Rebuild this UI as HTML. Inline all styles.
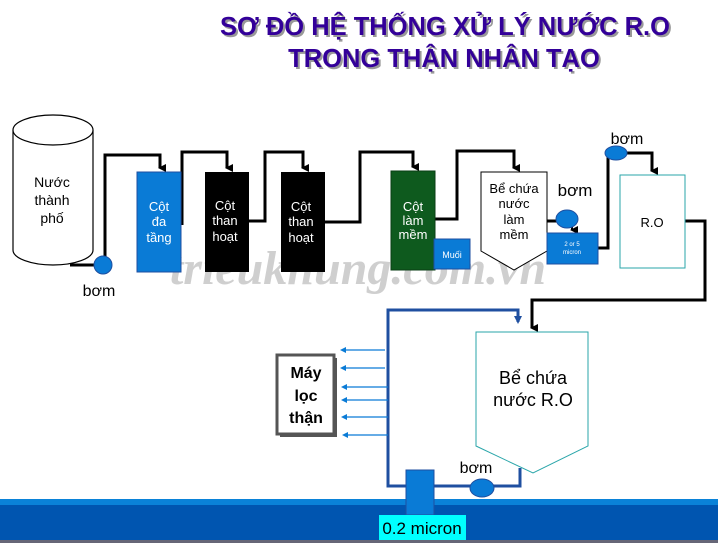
<!DOCTYPE html>
<html><head><meta charset="utf-8"><style>
html,body{margin:0;padding:0;background:#fff;}
svg{display:block;font-family:"Liberation Sans",sans-serif;}
</style></head><body>
<svg width="718" height="543" viewBox="0 0 718 543" xmlns="http://www.w3.org/2000/svg">
<defs>
<marker id="ab" markerWidth="8" markerHeight="8" refX="4" refY="6" orient="auto-start-reverse" markerUnits="userSpaceOnUse" viewBox="0 0 8 8"><path d="M0,0 L8,0 L4,8 Z" fill="#000"/></marker>
<marker id="abl" markerWidth="8" markerHeight="8" refX="4" refY="6" markerUnits="userSpaceOnUse" viewBox="0 0 8 8"><path d="M0,0 L8,0 L4,8 Z" fill="#1f4fa0"/></marker>
</defs>
<!-- Title -->
<g font-weight="bold" font-size="25.5" text-anchor="middle">
<text x="447" y="37" fill="#999">SƠ ĐỒ HỆ THỐNG  XỬ LÝ NƯỚC R.O</text>
<text x="445" y="35" fill="#330099">SƠ ĐỒ HỆ THỐNG  XỬ LÝ NƯỚC R.O</text>
<text x="446" y="69" fill="#999">TRONG THẬN NHÂN TẠO</text>
<text x="444" y="67" fill="#330099">TRONG THẬN NHÂN TẠO</text>
</g>
<!-- watermark -->
<text x="358" y="284" text-anchor="middle" font-family="Liberation Serif,serif" font-style="italic" font-weight="bold" font-size="48" fill="#bbb" opacity="0.7">trieukhung.com.vn</text>
<!-- Cylinder -->
<path d="M13,130 L13,250 A40,15 0 0 0 93,250 L93,130" fill="#fff" stroke="#000" stroke-width="1.2"/>
<ellipse cx="53" cy="130" rx="40" ry="15" fill="#fff" stroke="#000" stroke-width="1.2"/>
<g font-size="14" text-anchor="middle" fill="#000"><text x="52" y="187">Nước</text><text x="52" y="205">thành</text><text x="52" y="223">phố</text></g>
<!-- pipes black -->
<g fill="none" stroke="#000" stroke-width="3">
<path d="M70,265 L105,265 L105,155 L160,155 L160,168" marker-end="url(#ab)"/>
<path d="M182,225 L182,152 L227,152 L227,168" marker-end="url(#ab)"/>
<path d="M249,221 L265,221 L265,152 L303,152 L303,168" marker-end="url(#ab)"/>
<path d="M325,222 L360,222 L360,152 L413,152 L413,167" marker-end="url(#ab)"/>
<path d="M435,219 L457,219 L457,151 L514,151 L514,168" marker-end="url(#ab)"/>
<path d="M547,221 L560,221"/>
<path d="M572,225 L572,230" stroke-width="2" marker-end="url(#ab)"/>
<path d="M598,248 L608,248 L608,153 L652,153 L652,171" marker-end="url(#ab)"/>
<path d="M685,221 L705,221 L705,300 L532,300 L532,328" marker-end="url(#ab)"/>
</g>
<!-- pumps -->
<circle cx="103" cy="265" r="9" fill="#0a7bd6" stroke="#1f4fa0"/>
<text x="99" y="296" font-size="16" text-anchor="middle">bơm</text>
<ellipse cx="567" cy="219" rx="11" ry="9" fill="#0a7bd6" stroke="#1f4fa0"/>
<text x="575" y="196" font-size="17" text-anchor="middle">bơm</text>
<ellipse cx="616" cy="153" rx="11" ry="7" fill="#0a7bd6" stroke="#1f4fa0"/>
<text x="627" y="144" font-size="16" text-anchor="middle">bơm</text>
<!-- columns -->
<rect x="137" y="172" width="44" height="100" fill="#0a7bd6" stroke="#1f4fa0"/>
<g font-size="13" text-anchor="middle" fill="#fff"><text x="159" y="211">Cột</text><text x="159" y="226">đa</text><text x="159" y="242">tầng</text></g>
<rect x="205" y="172" width="44" height="100" fill="#000"/>
<g font-size="13" text-anchor="middle" fill="#fff"><text x="225" y="210">Cột</text><text x="225" y="225">than</text><text x="225" y="241">hoạt</text></g>
<rect x="281" y="172" width="44" height="100" fill="#000"/>
<g font-size="13" text-anchor="middle" fill="#fff"><text x="301" y="211">Cột</text><text x="301" y="226">than</text><text x="301" y="242">hoạt</text></g>
<rect x="391" y="171" width="44" height="99" fill="#0e5a1e" stroke="#0a3d14"/>
<g font-size="13" text-anchor="middle" fill="#fff"><text x="413" y="211">Cột</text><text x="413" y="225">làm</text><text x="413" y="239">mềm</text></g>
<rect x="434" y="239" width="36" height="30" fill="#0a7bd6" stroke="#1f4fa0"/>
<text x="452" y="258" font-size="9" fill="#fff" text-anchor="middle">Muối</text>
<!-- be chua lam mem -->
<path d="M481,172 L547,172 L547,251 L514,270 L481,251 Z" fill="#fff" stroke="#000"/>
<g font-size="13" text-anchor="middle"><text x="514" y="193">Bể chứa</text><text x="514" y="208">nước</text><text x="514" y="224">làm</text><text x="514" y="239">mềm</text></g>
<rect x="547" y="233" width="51" height="31" fill="#0a7bd6" stroke="#1f4fa0"/>
<g font-size="6" fill="#fff" text-anchor="middle"><text x="572" y="246">2 or 5</text><text x="572" y="254">micron</text></g>
<!-- RO -->
<rect x="620" y="175" width="65" height="93" fill="#fff" stroke="#2aa6aa"/>
<text x="652" y="227" font-size="13" text-anchor="middle">R.O</text>
<!-- bottom band -->
<rect x="0" y="499" width="718" height="6" fill="#0a82d8"/>
<rect x="0" y="505" width="718" height="35" fill="#0055b0"/>
<rect x="0" y="540" width="718" height="3" fill="#667"/>
<!-- blue loop -->
<g fill="none" stroke="#1f4fa0" stroke-width="3">
<path d="M520,468 L520,486 L388,486 L388,310 L518,310 L518,322" marker-end="url(#abl)"/>
</g>
<!-- RO tank -->
<path d="M476,332 L588,332 L588,446 L533,473 L476,446 Z" fill="#fff" stroke="#2aa6aa"/>
<g font-size="18" text-anchor="middle"><text x="533" y="384">Bể chứa</text><text x="533" y="406">nước R.O</text></g>
<ellipse cx="482" cy="488" rx="12" ry="9" fill="#0a7bd6" stroke="#1f4fa0"/>
<text x="476" y="473" font-size="16" text-anchor="middle">bơm</text>
<rect x="406" y="470" width="28" height="45" fill="#0a7bd6" stroke="#1f4fa0"/>
<rect x="379" y="515" width="87" height="25" fill="#00ffff"/>
<text x="422" y="534" font-size="17" text-anchor="middle">0.2 micron</text>
<!-- Máy lọc thận -->
<rect x="280" y="358" width="57" height="79" fill="#555"/>
<rect x="277" y="355" width="57" height="79" fill="#fff" stroke="#555" stroke-width="3"/>
<g font-size="16" font-weight="bold" text-anchor="middle"><text x="306" y="378">Máy</text><text x="306" y="401">lọc</text><text x="306" y="423">thận</text></g>
<g stroke="#0a7bd6" stroke-width="1.3">
<line x1="385" y1="350" x2="344" y2="350"/><line x1="385" y1="368" x2="344" y2="368"/><line x1="388" y1="387" x2="344" y2="387"/><line x1="388" y1="400" x2="344" y2="400"/><line x1="388" y1="417" x2="344" y2="417"/><line x1="388" y1="435" x2="346" y2="435"/>
</g>
<g fill="#0a7bd6">
<path d="M340,350 l6,-3 v6z"/><path d="M340,368 l6,-3 v6z"/><path d="M341,387 l6,-3 v6z"/><path d="M341,400 l6,-3 v6z"/><path d="M341,417 l6,-3 v6z"/><path d="M342,435 l6,-3 v6z"/>
</g>
</svg>
</body></html>
